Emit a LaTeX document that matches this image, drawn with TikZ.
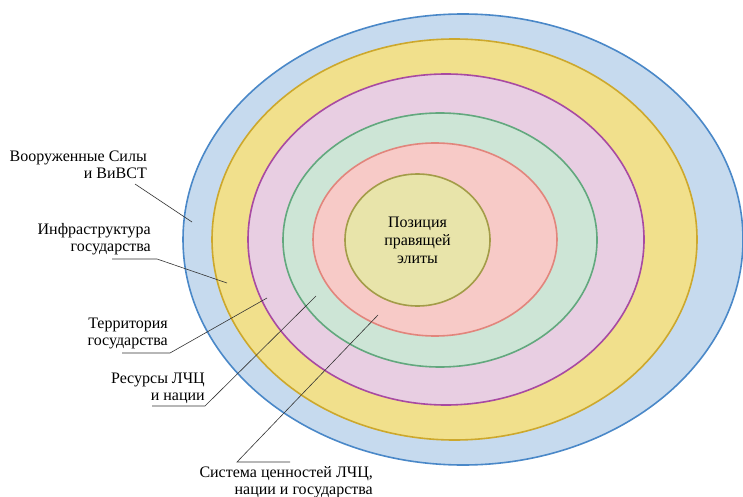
\documentclass[tikz,border=0pt]{standalone}
\usepackage{fontspec}
\setmainfont{Liberation Serif}
\usetikzlibrary{shapes.geometric, positioning}

\definecolor{armedfill}{HTML}{C6DAEE}
\definecolor{armedline}{HTML}{4A88C8}
\definecolor{infrafill}{HTML}{F1E08C}
\definecolor{infraline}{HTML}{CDA82C}
\definecolor{terrfill}{HTML}{E8CEE2}
\definecolor{terrline}{HTML}{A84AA2}
\definecolor{resfill}{HTML}{CDE5D6}
\definecolor{resline}{HTML}{62A87E}
\definecolor{valfill}{HTML}{F7CAC7}
\definecolor{valline}{HTML}{E2857C}
\definecolor{elitefill}{HTML}{E8E4AA}
\definecolor{eliteline}{HTML}{A39C48}

\begin{document}
\begin{tikzpicture}[x=1pt, y=-1pt,
    ring/.style={ellipse, draw, line width=1.6pt, inner sep=0pt, outer sep=0pt},
    lbl/.style={align=right, anchor=east, inner sep=0pt, font=\fontsize{16}{17}\selectfont},
    lead/.style={draw=black!80, line width=0.6pt}]

  \useasboundingbox[fill=white] (0,0) rectangle (743,497);

  % rings, outside in
  \node[ring, fill=armedfill, draw=armedline, minimum width=560pt, minimum height=451pt] (armed) at (463,239.5) {};
  \node[ring, fill=infrafill, draw=infraline, minimum width=485pt, minimum height=401pt] (infra) at (454.5,239.5) {};
  \node[ring, fill=terrfill, draw=terrline, minimum width=396pt, minimum height=331pt] (terr) at (446,239.5) {};
  \node[ring, fill=resfill, draw=resline, minimum width=314pt, minimum height=254pt] (res) at (440,240) {};
  \node[ring, fill=valfill, draw=valline, minimum width=244pt, minimum height=193pt] (val) at (435,239.5) {};
  \node[ring, fill=elitefill, draw=eliteline, minimum width=145pt, minimum height=132pt,
        align=center, font=\fontsize{16}{18}\selectfont] (elite) at (417.5,240) {Позиция\\правящей\\элиты};

  % labels
  \node[lbl] (armedlbl) at (147,165) {Вооруженные Силы\\и ВиВСТ};
  \node[lbl] (infralbl) at (151,239.5) {Инфраструктура\\государства};
  \node[lbl] (terrlbl) at (168,333) {Территория\\государства};
  \node[lbl] (reslbl) at (205,388.5) {Ресурсы ЛЧЦ\\и нации};
  \node[lbl] (vallbl) at (373,482.5) {Система ценностей ЛЧЦ,\\нации и государства};

  % leader lines
  \coordinate (armedft) at (135,184);
  \coordinate (armedpt) at (192,222);
  \coordinate (infraul) at (112,259);
  \coordinate (infrakn) at (157,259);
  \coordinate (infrapt) at (227,283);
  \coordinate (terrul) at (122,353);
  \coordinate (terrkn) at (170,353);
  \coordinate (terrpt) at (267,298);
  \coordinate (resul) at (152,406);
  \coordinate (reskn) at (205,406);
  \coordinate (respt) at (316,296);
  \coordinate (valul) at (290,462);
  \coordinate (valkn) at (237,462);
  \coordinate (valpt) at (378,315);

  \draw[lead] (armedft) -- (armedpt);
  \draw[lead] (infraul) -- (infrakn) -- (infrapt);
  \draw[lead] (terrul) -- (terrkn) -- (terrpt);
  \draw[lead] (resul) -- (reskn) -- (respt);
  \draw[lead] (valul) -- (valkn) -- (valpt);
\end{tikzpicture}
\end{document}
